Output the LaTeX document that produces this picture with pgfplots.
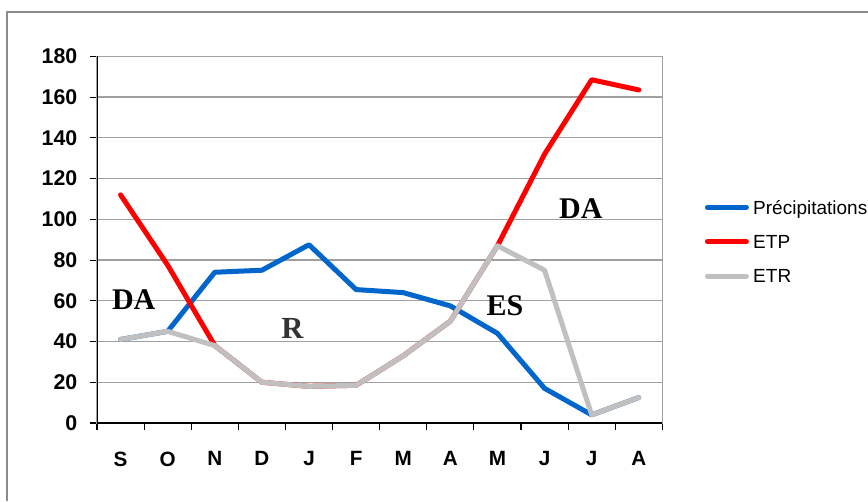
\documentclass[border=0pt]{standalone}
\usepackage{fontspec}
\setmainfont{Liberation Sans}
\newfontfamily\timesfont{Liberation Serif}
\usepackage{pgfplots}
\pgfplotsset{compat=1.18}

\definecolor{precip}{HTML}{0066CC}
\definecolor{etp}{HTML}{FF0000}
\definecolor{etr}{HTML}{C0C0C0}
\definecolor{gridgray}{HTML}{A0A0A0}
\definecolor{framegray}{HTML}{8C8C8C}

\begin{document}
\begin{tikzpicture}
    \useasboundingbox (0,0) rectangle (651pt,375.75pt);
    \fill[white] (0,0) rectangle (651pt,375.75pt);
    % outer frame of the chart (only left and top edges visible)
    \draw[framegray, line width=1.1pt, line cap=butt]
        (5.25pt,0pt) -- (5.25pt,366.75pt) -- (651pt,366.75pt);

    \begin{axis}[
        at={(72.75pt,58.5pt)}, anchor=south west,
        scale only axis,
        width=424pt, height=275pt,
        xmin=-0.5, xmax=11.5,
        ymin=0, ymax=180,
        ytick={0,20,...,180},
        xtick={-0.5,0.5,...,11.5},
        xticklabels={},
        extra x ticks={0,1,...,11},
        extra x tick labels={S,O,N,D,J,F,M,A,M,J,J,A},
        extra x tick style={
            major tick length=0pt,
            grid=none,
            xticklabel style={yshift=-18pt},
        },
        xtick pos=bottom, ytick pos=left,
        tick align=outside,
        major tick length=5.25pt,
        tick style={black, line width=0.8pt},
        ymajorgrids,
        grid style={gridgray, line width=1pt},
        axis line style={gridgray, line width=1pt},
        /pgf/number format/assume math mode=true,
        yticklabel style={font=\bfseries\fontsize{16pt}{18pt}\selectfont, xshift=-6pt},
        xticklabel style={font=\bfseries\fontsize{15.5pt}{18pt}\selectfont},
        legend style={
            at={(1.0713,0.4945)}, anchor=west,
            draw=none, fill=none,
            inner sep=0pt,
            row sep=15.6pt,
            font=\fontsize{14.25pt}{16pt}\selectfont,
            nodes={inner sep=0pt, text height=10.2pt, text depth=0pt},
            cells={anchor=west},
        },
        legend image code/.code={
            \draw[#1, line cap=round] (1.5pt,0pt) -- (30.75pt,0pt);
            \path (0pt,0pt) (34pt,0pt);
        },
    ]

    \addplot[precip, line width=3.75pt, line join=round, line cap=round]
        coordinates {(0,41) (1,45) (2,74) (3,75) (4,87.5) (5,65.5)
                     (6,64) (7,57.5) (8,44) (9,17) (10,4) (11,12.5)};
    \addlegendentry{Précipitations}

    \addplot[etp, line width=3.75pt, line join=round, line cap=round]
        coordinates {(0,112) (1,77.5) (2,38) (3,20) (4,18) (5,18.5)
                     (6,33) (7,50) (8,87) (9,132) (10,168.5) (11,163.5)};
    \addlegendentry{ETP}

    \addplot[etr, line width=3.75pt, line join=round, line cap=round]
        coordinates {(0,41) (1,45) (2,38) (3,20) (4,18) (5,18.5)
                     (6,33) (7,50) (8,87) (9,75) (10,4) (11,12.5)};
    \addlegendentry{ETR}

    % dark left and bottom axis lines
    \draw[black, line width=1pt] (rel axis cs:0,1) -- (rel axis cs:0,0) -- (rel axis cs:1,0);

    % zone labels
    \node[font=\timesfont\bfseries\fontsize{22.5pt}{24pt}\selectfont]
        at (axis cs:0.28,60.5) {DA};
    \node[font=\timesfont\bfseries\fontsize{23pt}{24pt}\selectfont, text=black!80]
        at (axis cs:3.65,46.2) {R};
    \node[font=\timesfont\bfseries\fontsize{22.5pt}{24pt}\selectfont]
        at (axis cs:8.16,57.5) {ES};
    \node[font=\timesfont\bfseries\fontsize{22.5pt}{24pt}\selectfont]
        at (axis cs:9.77,105.3) {DA};
    \end{axis}
\end{tikzpicture}
\end{document}
